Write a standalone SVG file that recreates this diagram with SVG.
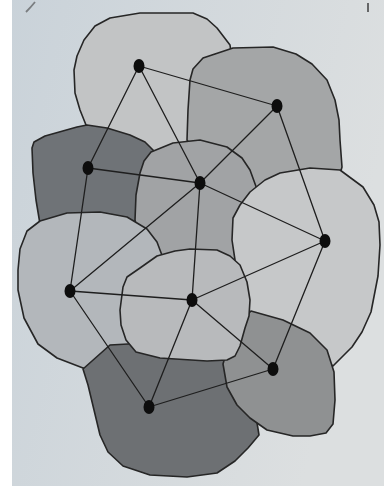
<svg xmlns="http://www.w3.org/2000/svg" width="384" height="486" viewBox="0 0 384 486">
<defs>
<linearGradient id="bg" x1="0" y1="0" x2="1" y2="0.3">
<stop offset="0" stop-color="#c9d2d9"/>
<stop offset="1" stop-color="#dcdfe0"/>
</linearGradient>
<style>
.r{stroke:#262626;stroke-width:1.6;stroke-linejoin:round}
.e{stroke:#1e1e1e;stroke-width:1.3;fill:none;stroke-linecap:round}
.n{fill:#0d0d0d}
</style>
</defs>
<rect x="0" y="0" width="384" height="486" fill="url(#bg)"/>
<rect x="0" y="0" width="12" height="486" fill="#ffffff"/>
<path d="M26 12 Q31 7 35 2" stroke="#444" stroke-width="1.8" fill="none" opacity="0.6"/>
<path d="M368 3 L368 12" stroke="#333" stroke-width="2" fill="none" opacity="0.7"/>
<g id="regions">
<path id="rA" class="r" fill="#c2c4c5" d="M86 125 L80 110 L75 93 L74 70 L77 56 L84 40 L95 26 L110 18 L140 13 L193 13 L207 19 L217 28 L230 45 L235 80 L215 165 L150 172 L100 150 Z"/>
<path id="rB" class="r" fill="#a4a6a7" d="M187 140 L188 110 L190 80 L193 69 L203 58 L233 48 L273 47 L296 54 L312 64 L327 80 L335 100 L339 120 L340 140 L342 167 L330 210 L250 210 L200 160 Z"/>
<path id="rC" class="r" fill="#6f7377" d="M32 148 L34 142 L45 136 L77 127 L87 125 L107 128 L130 135 L145 142 L155 152 L145 220 L60 230 L40 224 L36 200 L33 173 Z"/>
<path id="rD" class="r" fill="#a1a3a5" d="M140 173 L144 161 L151 152 L173 143 L200 140 L227 147 L242 158 L250 170 L258 192 L245 290 L150 290 L135 220 L136 195 Z"/>
<path id="rE" class="r" fill="#c6c8c9" d="M233 218 L240 205 L250 192 L265 180 L280 173 L310 168 L340 170 L363 187 L374 205 L379 222 L380 245 L378 276 L371 312 L362 332 L352 347 L333 366 L300 345 L245 320 L235 260 L232 240 Z"/>
<path id="rF" class="r" fill="#b3b7bb" d="M20 249 L27 231 L40 221 L67 213 L100 212 L127 217 L147 229 L157 242 L163 258 L170 300 L130 345 L127 346 L112 357 L97 368 L83 368 L57 358 L38 344 L24 318 L18 290 L18 270 Z"/>
<path id="rI" class="r" fill="#6d7073" d="M83 369 L88 385 L94 410 L100 435 L108 452 L123 466 L150 475 L187 477 L217 473 L235 461 L248 448 L259 435 L250 380 L200 340 L110 345 Z"/>
<path id="rH" class="r" fill="#8f9192" d="M223 364 L230 340 L240 322 L251 311 L283 320 L310 333 L327 350 L334 372 L335 400 L333 424 L326 433 L310 436 L293 436 L267 430 L250 418 L237 405 L227 387 Z"/>
<path id="rG" class="r" fill="#b8babc" d="M123 287 L127 277 L140 268 L157 256 L175 251 L190 249 L217 250 L230 256 L240 265 L247 282 L250 300 L249 316 L245 328 L240 346 L235 356 L227 360 L207 361 L160 358 L136 352 L126 340 L121 325 L120 310 Z"/>
</g>
<g id="connectors">
<line class="e" x1="139" y1="66" x2="277" y2="106"/>
<line class="e" x1="139" y1="66" x2="88" y2="168"/>
<line class="e" x1="139" y1="66" x2="200" y2="183"/>
<line class="e" x1="277" y1="106" x2="200" y2="183"/>
<line class="e" x1="277" y1="106" x2="325" y2="241"/>
<line class="e" x1="88" y1="168" x2="200" y2="183"/>
<line class="e" x1="88" y1="168" x2="70" y2="291"/>
<line class="e" x1="200" y1="183" x2="70" y2="291"/>
<line class="e" x1="200" y1="183" x2="192" y2="300"/>
<line class="e" x1="200" y1="183" x2="325" y2="241"/>
<line class="e" x1="70" y1="291" x2="192" y2="300"/>
<line class="e" x1="70" y1="291" x2="149" y2="407"/>
<line class="e" x1="192" y1="300" x2="325" y2="241"/>
<line class="e" x1="192" y1="300" x2="149" y2="407"/>
<line class="e" x1="192" y1="300" x2="273" y2="369"/>
<line class="e" x1="325" y1="241" x2="273" y2="369"/>
<line class="e" x1="273" y1="369" x2="149" y2="407"/>
</g>
<g id="nA"><ellipse class="n" cx="139" cy="66" rx="5.5" ry="7"/></g>
<g id="nB"><ellipse class="n" cx="277" cy="106" rx="5.5" ry="7"/></g>
<g id="nC"><ellipse class="n" cx="88" cy="168" rx="5.5" ry="7"/></g>
<g id="nD"><ellipse class="n" cx="200" cy="183" rx="5.5" ry="7"/></g>
<g id="nE"><ellipse class="n" cx="325" cy="241" rx="5.5" ry="7"/></g>
<g id="nF"><ellipse class="n" cx="70" cy="291" rx="5.5" ry="7"/></g>
<g id="nG"><ellipse class="n" cx="192" cy="300" rx="5.5" ry="7"/></g>
<g id="nH"><ellipse class="n" cx="273" cy="369" rx="5.5" ry="7"/></g>
<g id="nI"><ellipse class="n" cx="149" cy="407" rx="5.5" ry="7"/></g>
</svg>
